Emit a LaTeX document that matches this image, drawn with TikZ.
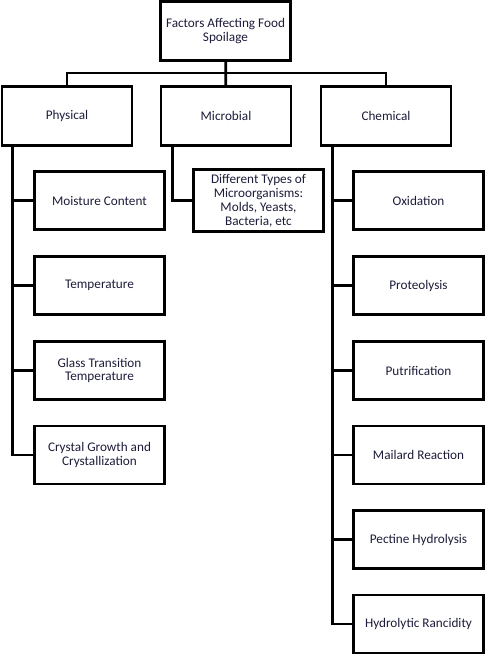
\documentclass[tikz,border=0pt]{standalone}
\usepackage{fontspec}
\setmainfont{Carlito}
\usetikzlibrary{positioning}
\definecolor{inktext}{RGB}{28,28,58}
\tikzstyle{topbox} = [rectangle, draw, line width=2pt, minimum width=3.25cm, minimum height=1.47cm, align=center, font=\fontsize{9.4}{9.6}\selectfont, text=inktext]
\tikzstyle{leaf} = [rectangle, draw, line width=2pt, minimum width=3.25cm, minimum height=1.45cm, align=center, font=\fontsize{9.4}{9.9}\selectfont, text=inktext]
\tikzstyle{link} = [line width=2pt]

\begin{document}
\begin{tikzpicture}[x=0.025cm, y=-0.025cm]
    \useasboundingbox (0,0) rectangle (491,657);
    \node [topbox] at (225.5,31) (root) {Factors Affecting Food\\Spoilage};
    \node [topbox] at (67,116) (physical) {Physical};
    \node [topbox] at (226,116) (microbial) {Microbial};
    \node [topbox] at (386,116) (chemical) {Chemical};
    \coordinate (bar) at (225.5,73);

    \node [leaf] at (99.5,200.5) (moisture) {Moisture Content};
    \node [leaf] at (99.5,285.5) (temp) {Temperature};
    \node [leaf] at (99.5,370.5) (glass) {Glass Transition\\Temperature};
    \node [leaf] at (99.5,455) (crystal) {Crystal Growth and\\Crystallization};

    \node [leaf] at (258.5,200.5) (microbes) {Different Types of\\Microorganisms:\\Molds, Yeasts,\\Bacteria, etc};

    \node [leaf] at (418.5,200.5) (oxid) {Oxidation};
    \node [leaf] at (418.5,285.5) (proteo) {Proteolysis};
    \node [leaf] at (418.5,370.5) (putri) {Putrification};
    \node [leaf] at (418.5,455) (mailard) {Mailard Reaction};
    \node [leaf] at (418.5,539.5) (pectine) {Pectine Hydrolysis};
    \node [leaf] at (418.5,624) (rancid) {Hydrolytic Rancidity};

    \draw [link] (root) -- (microbial);
    \draw [link] (physical.north) |- (bar) -| (chemical.north);

    \draw [link] ([xshift=0.3cm]physical.south west) |- (moisture.west);
    \draw [link] ([xshift=0.3cm]physical.south west) |- (temp.west);
    \draw [link] ([xshift=0.3cm]physical.south west) |- (glass.west);
    \draw [link] ([xshift=0.3cm]physical.south west) |- (crystal.west);

    \draw [link] ([xshift=0.32cm]microbial.south west) |- (microbes.west);

    \draw [link] ([xshift=0.32cm]chemical.south west) |- (oxid.west);
    \draw [link] ([xshift=0.32cm]chemical.south west) |- (proteo.west);
    \draw [link] ([xshift=0.32cm]chemical.south west) |- (putri.west);
    \draw [link] ([xshift=0.32cm]chemical.south west) |- (mailard.west);
    \draw [link] ([xshift=0.32cm]chemical.south west) |- (pectine.west);
    \draw [link] ([xshift=0.32cm]chemical.south west) |- (rancid.west);
    \end{tikzpicture}
\end{document}
